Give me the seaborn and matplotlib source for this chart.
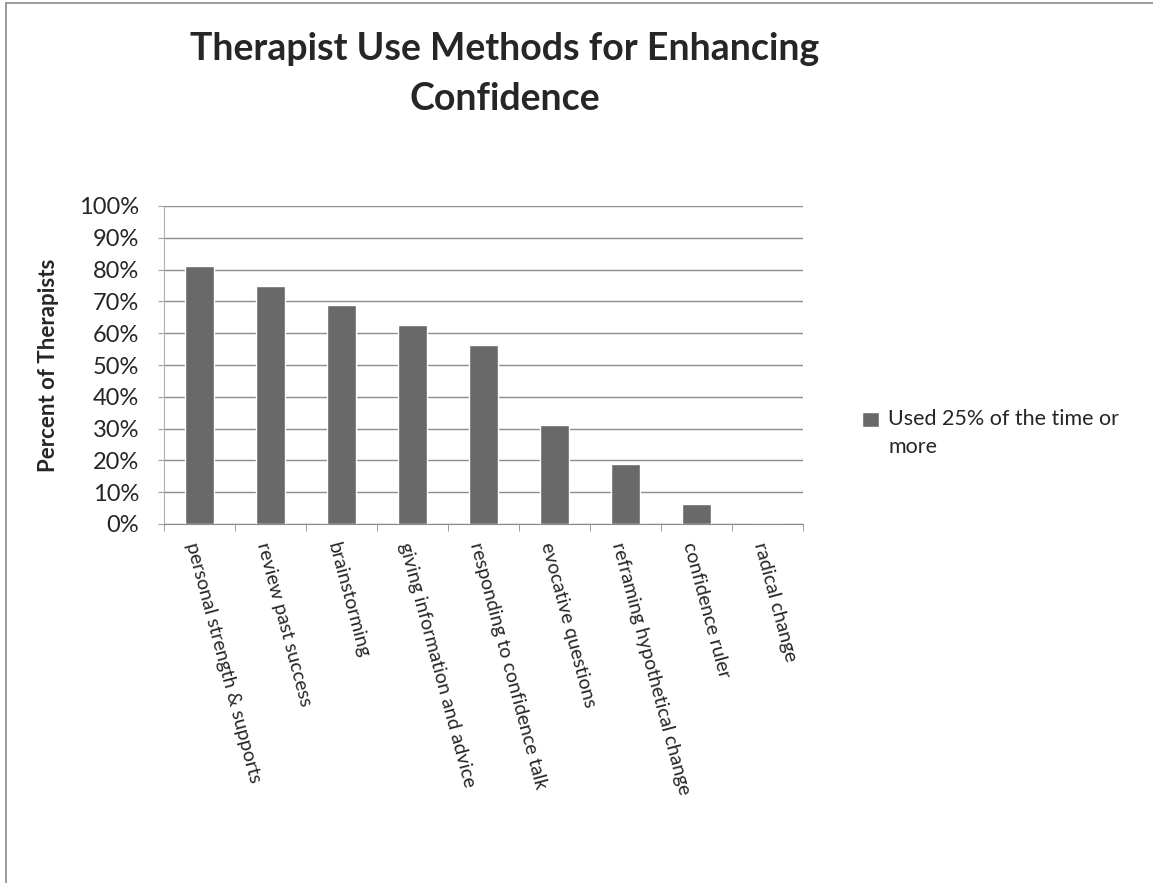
import matplotlib
matplotlib.use("Agg")
import matplotlib.pyplot as plt
import seaborn as sns
import pandas as pd
from matplotlib.patches import Patch, Rectangle
from matplotlib.ticker import FixedLocator, PercentFormatter

categories = ["personal strength & supports", "review past success", "brainstorming",
              "giving information and advice", "responding to confidence talk",
              "evocative questions", "reframing hypothetical change",
              "confidence ruler", "radical change"]
values = [81.25, 75.0, 68.75, 62.5, 56.25, 31.25, 18.75, 6.25, 0.0]
series_name = "Used 25% of the time or\nmore"
title = "Therapist Use Methods for Enhancing\nConfidence"
ylabel = "Percent of Therapists"

sns.set_style("white")
plt.rcParams['font.family'] = ['Lato', 'DejaVu Sans']

df = pd.DataFrame({"method": categories, "pct": values})

fig = plt.figure(figsize=(11.53, 8.83), dpi=100)
ax = fig.add_axes([164/1153, 1-524/883, (803-164)/1153, (524-206)/883])

sns.barplot(data=df, x="method", y="pct", color="#696969", saturation=1,
            width=0.41, ax=ax)

ax.set_xlim(-0.5, len(categories)-0.5)
ax.set_ylim(0, 100)
ax.set_yticks(range(0, 101, 10))
ax.yaxis.set_major_formatter(PercentFormatter(100, decimals=0))
ax.tick_params(axis='y', labelsize=17, length=4, color='#a0a0a0', left=True, pad=14)
ax.grid(axis='y', color='#8c8c8c', lw=1)
ax.set_axisbelow(True)
for s in ['top', 'right']:
    ax.spines[s].set_visible(False)
ax.spines['left'].set_color('#b0b0b0')
ax.spines['bottom'].set_color('#8c8c8c')

ax.set_xticks(range(len(categories)))
ax.set_xticklabels(categories, rotation=-75, ha='left', va='top',
                   rotation_mode='anchor', fontsize=14)
ax.tick_params(axis='x', length=0, pad=12)
ax.xaxis.set_minor_locator(FixedLocator([i - 0.5 for i in range(len(categories)+1)]))
ax.tick_params(axis='x', which='minor', length=5, color='#8c8c8c', bottom=True)
ax.set_xlabel("")
ax.set_ylabel(ylabel, fontsize=16, fontweight='bold', labelpad=14)

fig.text(505/1153, 1-74/883, title, ha='center', va='center',
         fontsize=27, fontweight='bold', linespacing=1.6)

leg = ax.legend(handles=[Patch(facecolor="#696969", label=series_name)],
                loc='center left', bbox_to_anchor=(843/1153, 1-433/883),
                bbox_transform=fig.transFigure, frameon=False, fontsize=15.5,
                handlelength=0.75, handleheight=0.75, handletextpad=0.45)
for t in leg.get_texts():
    t.set_linespacing(1.45)
for h in leg.legend_handles:
    h.set_y(h.get_y() + 10)

fig.patches.append(Rectangle((6/1153, -0.1), 1.2, 1-3/883+0.1,
                             transform=fig.transFigure, fill=False,
                             edgecolor='#8a8a8a', lw=1.2))

fig.savefig("out.png", dpi=100)
